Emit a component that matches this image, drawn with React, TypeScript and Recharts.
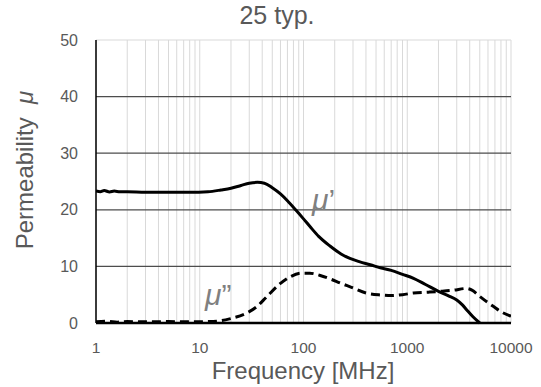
import React from 'react'
import { LineChart, Line, XAxis, YAxis, CartesianGrid, ReferenceLine } from 'recharts'

// x axis: every log gridline, only decades get a label
const FREQ_TICKS = [
  1, 2, 3, 4, 5, 6, 7, 8, 9,
  10, 20, 30, 40, 50, 60, 70, 80, 90,
  100, 200, 300, 400, 500, 600, 700, 800, 900,
  1000, 2000, 3000, 4000, 5000, 6000, 7000, 8000, 9000,
  10000,
]
const DECADE_LABELS = [1, 10, 100, 1000, 10000]
const Y_TICKS = [0, 10, 20, 30, 40, 50]
const DARK_GRID = [10, 20, 30, 40]

// mu' (solid)
const MU1_FREQ = [
  1, 1.1, 1.2, 1.35, 1.5, 1.7, 2, 3, 5, 8, 12, 16, 20, 25, 30, 36, 42, 50, 60, 70, 84,
  100, 116, 140, 180, 230, 280, 350, 440, 550, 700, 900, 1150, 1500, 2000, 2500, 3000,
  3400, 3750, 4300, 5000,
]
const MU1_VALUE = [
  23.35, 23.2, 23.4, 23.15, 23.3, 23.2, 23.2, 23.1, 23.1, 23.1, 23.2, 23.5, 23.8, 24.3, 24.7, 24.85, 24.7, 23.9, 22.8, 21.6, 20.0,
  18.4, 17.0, 15.3, 13.6, 12.2, 11.4, 10.8, 10.3, 9.75, 9.3, 8.6, 7.9, 6.8, 5.6, 4.8, 4.06,
  3.2, 2.3, 1.1, 0,
]

// mu'' (dashed)
const MU2_FREQ = [
  1, 1.3, 1.6, 2, 3, 5, 8, 12, 16, 20, 28, 35, 44, 60, 75, 95, 115, 145, 180, 230, 290,
  400, 550, 700, 900, 1150, 1600, 2100, 2800, 3700, 4200, 5000, 6000, 6800, 8000, 10000,
]
const MU2_VALUE = [
  0.2, 0.3, 0.15, 0.25, 0.2, 0.25, 0.2, 0.25, 0.4, 0.8, 1.7, 2.8, 4.6, 7.0, 8.2, 8.8, 8.8, 8.4, 7.8, 7.0, 6.3,
  5.3, 4.95, 4.85, 5.0, 5.3, 5.45, 5.6, 5.8, 6.1, 5.8, 4.7, 3.6, 2.9, 2.0, 1.2,
]

const mu1Data = MU1_FREQ.map((f, i) => ({ f, v: MU1_VALUE[i] }))
const mu2Data = MU2_FREQ.map((f, i) => ({ f, v: MU2_VALUE[i] }))

const TEXT = '#595959'

export default function App() {
  return (
    <div
      style={{
        position: 'absolute',
        left: 0,
        top: 0,
        width: 541,
        height: 387,
        background: '#fff',
        fontFamily: '"Liberation Sans", Arial, sans-serif',
      }}
    >
      <LineChart width={541} height={387} margin={{ top: 40, right: 30, bottom: 34, left: 0 }}>
        <CartesianGrid horizontal={false} stroke="#d9d9d9" strokeWidth={1} />
        <XAxis
          dataKey="f"
          type="number"
          scale="log"
          domain={[1, 10000]}
          ticks={FREQ_TICKS}
          interval={0}
          allowDataOverflow
          height={30}
          tickSize={0}
          tickMargin={19}
          tickLine={false}
          axisLine={{ stroke: '#000', strokeWidth: 2.5 }}
          tick={{ fill: TEXT, fontSize: 15.5 }}
          tickFormatter={(v: number) => (DECADE_LABELS.includes(v) ? String(v) : '')}
        />
        <YAxis
          type="number"
          domain={[0, 50]}
          ticks={Y_TICKS}
          interval={0}
          width={96}
          tickSize={0}
          tickMargin={18}
          tickLine={false}
          axisLine={{ stroke: '#000', strokeWidth: 1.5 }}
          tick={{ fill: TEXT, fontSize: 16 }}
        />
        <ReferenceLine y={50} stroke="#d9d9d9" strokeWidth={1} />
        {DARK_GRID.map((y) => (
          <ReferenceLine key={y} y={y} stroke="#4d4d4d" strokeWidth={1.3} />
        ))}
        <Line
          data={mu1Data}
          dataKey="v"
          type="monotone"
          stroke="#000"
          strokeWidth={3}
          dot={false}
          isAnimationActive={false}
        />
        <Line
          data={mu2Data}
          dataKey="v"
          type="monotone"
          stroke="#000"
          strokeWidth={3}
          strokeDasharray="9 5"
          dot={false}
          isAnimationActive={false}
        />
      </LineChart>

      {/* title, axis titles and curve annotations */}
      <svg
        width={541}
        height={387}
        style={{ position: 'absolute', left: 0, top: 0, pointerEvents: 'none' }}
      >
        <text x={277} y={24} textAnchor="middle" fontSize={25} fill={TEXT}>
          25 typ.
        </text>
        <text x={303} y={379} textAnchor="middle" fontSize={24} fill={TEXT}>
          Frequency [MHz]
        </text>
        <text transform="translate(33,170) rotate(-90)" textAnchor="middle" fontSize={24} fill={TEXT}>
          Permeability{'\u00a0\u00a0'}
          <tspan fontStyle="italic">μ</tspan>
        </text>
        <text x={312} y={210} fontSize={30} fill="#808080">
          <tspan fontStyle="italic">μ</tspan>’
        </text>
        <text x={205} y={305} fontSize={30} fill="#808080">
          <tspan fontStyle="italic">μ</tspan>”
        </text>
      </svg>
    </div>
  )
}
